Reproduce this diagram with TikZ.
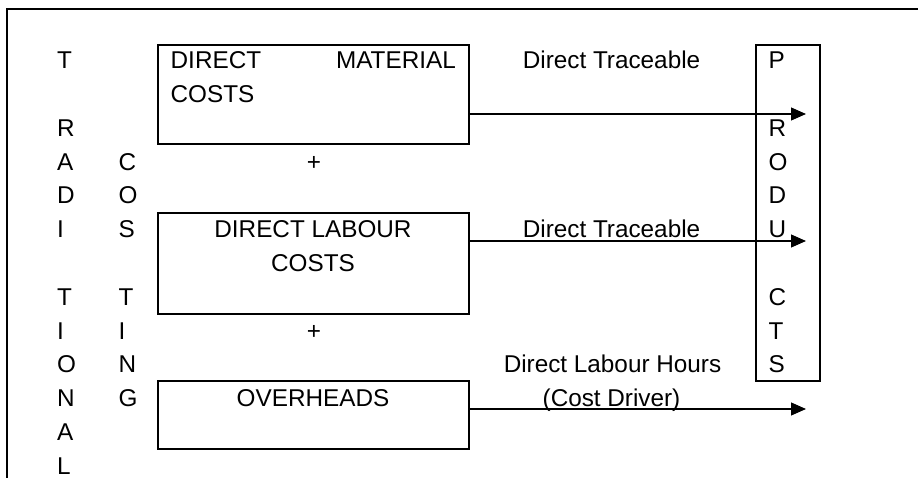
\documentclass[tikz,border=0pt]{standalone}
\usepackage{fontspec}
\setmainfont{Liberation Sans}
\usetikzlibrary{arrows.meta}
\begin{document}
\begin{tikzpicture}[x=1pt,y=-1pt,
  txt/.style={inner sep=0pt,font=\fontsize{24.3}{29}\selectfont},
  costbox/.style={draw,line width=1.8pt,minimum width=311pt,inner sep=0pt},
  prodbox/.style={draw,line width=1.2pt,inner sep=0pt},
  flow/.style={line width=1.2pt,-{Triangle[length=15pt,width=13pt]}},
  frameline/.style={line width=2pt}]
\useasboundingbox (0,0) rectangle (918,478);

% outer frame (top and left edges only)
\draw[frameline] (918,9) -- (7,9) -- (7,478);

% cost boxes
\node[costbox,minimum height=99pt] (dm) at (313.5,94.5) {};
\node[costbox,minimum height=101pt] (dl) at (313.5,263.5) {};
\node[costbox,minimum height=68pt] (oh) at (313.5,415) {};

% products box
\node[prodbox,minimum width=64pt,minimum height=336pt] (pr) at (788,213) {};

% vertical lettering: TRADITIONAL / COSTING / PRODUCTS
\foreach \ch/\k in {T/0,R/2,A/3,D/4,I/5,T/7,I/8,O/9,N/10,A/11,L/12}
  \node[txt,anchor=base west] (ta-\k) at (57,68.7+33.8*\k) {\ch};
\foreach \ch/\k in {C/3,O/4,S/5,T/7,I/8,N/9,G/10}
  \node[txt,anchor=base west] (co-\k) at (118.5,68.7+33.8*\k) {\ch};
\foreach \ch/\k in {P/0,R/2,O/3,D/4,U/5,C/7,T/8,S/9}
  \node[txt,anchor=base west] (pd-\k) at (768.5,68.7+33.8*\k) {\ch};

% box texts
\node[txt,anchor=base west] (dm1) at (170.5,68.7) {DIRECT};
\node[txt,anchor=base east] (dm2) at (456,68.7) {MATERIAL};
\node[txt,anchor=base west] (dm3) at (170.5,102.5) {COSTS};
\node[txt,anchor=base] (dl1) at (313,237.7) {DIRECT LABOUR};
\node[txt,anchor=base] (dl2) at (313,271.5) {COSTS};
\node[txt,anchor=base] (oh1) at (313,406.7) {OVERHEADS};
\node[txt,anchor=base] (plus1) at (314,170.1) {+};
\node[txt,anchor=base] (plus2) at (314,339.1) {+};

% flow labels
\node[txt,anchor=base] (f1) at (611.5,68.7) {Direct Traceable};
\node[txt,anchor=base] (f2) at (611.5,237.7) {Direct Traceable};
\node[txt,anchor=base] (f3) at (612.5,372.9) {Direct Labour Hours};
\node[txt,anchor=base] (f4) at (611.5,406.7) {(Cost Driver)};

% arrows into products
\coordinate (t1) at (806,114);
\coordinate (t2) at (806,241);
\coordinate (t3) at (806,409);
\draw[flow] (dm.east |- t1) -- (t1);
\draw[flow] (dl.east |- t2) -- (t2);
\draw[flow] (oh.east |- t3) -- (t3);
\end{tikzpicture}
\end{document}
